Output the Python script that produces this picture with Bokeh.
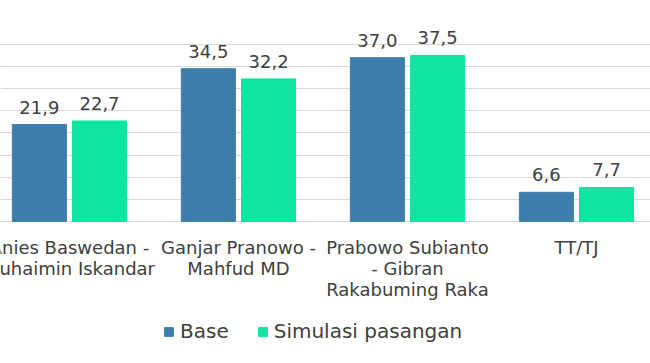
from bokeh.plotting import figure
from bokeh.models import Range1d, FixedTicker, ColumnDataSource, Legend, LegendItem, Grid
from bokeh.embed import file_html
from bokeh.resources import INLINE
from bokeh.core.properties import value

categories = ["Anies Baswedan -\nMuhaimin Iskandar",
              "Ganjar Pranowo -\nMahfud MD",
              "Prabowo Subianto\n- Gibran\nRakabuming Raka",
              "TT/TJ"]
base = [21.9, 34.5, 37.0, 6.6]
simulasi = [22.7, 32.2, 37.5, 7.7]
series_names = ["Base", "Simulasi pasangan"]
grid_ticks = [0, 5, 10, 15, 20, 25, 30, 35, 40]

BLUE = "#3d7eac"
GREEN = "#0ee5a0"
TEXT = "#404040"
GRID = "#d9d9d9"
FONT = "DejaVu Sans"

idx = list(range(len(categories)))
off = 0.178
bw = 0.32

def fmt(v):
    return f"{v:.1f}".replace(".", ",")

src_b = ColumnDataSource(dict(x=[i - off for i in idx], top=base, lab=[fmt(v) for v in base]))
src_s = ColumnDataSource(dict(x=[i + off for i in idx], top=simulasi, lab=[fmt(v) for v in simulasi]))
src_c = ColumnDataSource(dict(x=idx, y=[0] * len(idx), lab=categories))

p = figure(frame_width=650, frame_height=363, x_range=Range1d(-0.408, 3.438), y_range=Range1d(-32.05, 49.9),
           toolbar_location=None, output_backend="svg", x_axis_location=None, y_axis_location=None,
           min_border_left=0, min_border_right=0, min_border_top=0, min_border_bottom=0)
p.outline_line_color = None
p.background_fill_color = "white"
p.border_fill_color = "white"
p.grid.visible = False

p.add_layout(Grid(dimension=1, ticker=FixedTicker(ticks=grid_ticks), grid_line_color=GRID, grid_line_width=1))

rb = p.vbar(x="x", top="top", width=bw, source=src_b, color=BLUE)
rs = p.vbar(x="x", top="top", width=bw, source=src_s, color=GREEN)

for src in (src_b, src_s):
    p.text(x="x", y="top", text="lab", source=src, y_offset=-11, text_align="center",
           text_baseline="bottom", text_font=value(FONT), text_font_size="18px", text_color=TEXT)

p.text(x="x", y="y", text="lab", source=src_c, y_offset=15, text_align="center",
       text_baseline="top", text_font=value(FONT), text_font_size="18px", text_color=TEXT,
       text_line_height=1.0)

legend = Legend(items=[LegendItem(label=series_names[0], renderers=[rb]),
                       LegendItem(label=series_names[1], renderers=[rs])],
                orientation="horizontal", location=(163, 20))
legend.label_text_font = FONT
legend.label_text_font_size = "20px"
legend.label_text_color = TEXT
legend.glyph_width = 11
legend.glyph_height = 11
legend.label_standoff = 6
legend.spacing = 28
legend.border_line_color = None
legend.background_fill_alpha = 0
legend.margin = 0
legend.padding = 0
p.add_layout(legend)

open("out.html", "w").write(file_html(p, INLINE))
